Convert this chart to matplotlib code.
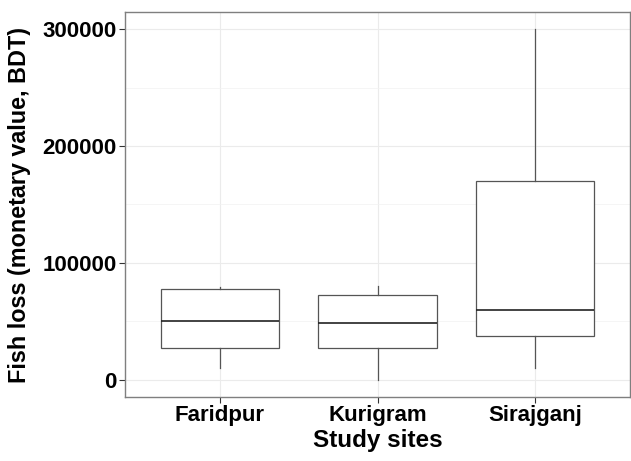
import numpy as np
import matplotlib
matplotlib.use('Agg')
import matplotlib.pyplot as plt
from matplotlib.ticker import MultipleLocator

# ------------------------------------------------------------
# DATA
# ------------------------------------------------------------
sites = ['Faridpur', 'Kurigram', 'Sirajganj']
whisker_low = [10000, 0, 10000]
q1 = [27000, 27000, 37000]
median = [50000, 48500, 60000]
q3 = [78000, 72500, 170000]
whisker_high = [79000, 80000, 300000]

plt.rcParams['font.family'] = ['Liberation Sans', 'DejaVu Sans']
plt.rcParams['font.weight'] = 'bold'

fig = plt.figure(figsize=(6.31, 4.61), dpi=100)
ax = fig.add_axes([125/631, 1 - 397/461, (630-125)/631, (397-12)/461])

stats = []
for i, s in enumerate(sites):
    stats.append(dict(label=s, whislo=whisker_low[i], q1=q1[i], med=median[i],
                      q3=q3[i], whishi=whisker_high[i], fliers=[]))

pos = np.arange(1, len(sites) + 1)
ax.bxp(stats, positions=pos, widths=0.75, showcaps=False, showfliers=False,
       patch_artist=True,
       boxprops=dict(facecolor='white', edgecolor='#555555', linewidth=0.9),
       whiskerprops=dict(color='#555555', linewidth=0.9),
       medianprops=dict(color='#222222', linewidth=1.2),
       zorder=3)

ax.set_xlim(0.4, 3.6)
ax.set_ylim(-15000, 315000)
ax.yaxis.set_major_locator(MultipleLocator(100000))
ax.yaxis.set_minor_locator(MultipleLocator(50000))
ax.set_xticks(pos)
ax.set_xticklabels(sites)

ax.grid(True, which='major', color='#EBEBEB', linewidth=0.8, zorder=0)
ax.grid(True, which='minor', axis='y', color='#F2F2F2', linewidth=0.5, zorder=0)
ax.set_axisbelow(True)
ax.tick_params(which='minor', length=0)
ax.tick_params(which='major', length=4, width=0.8, color='#333333',
               labelsize=16, labelcolor='black', pad=2)
for lab in ax.get_xticklabels() + ax.get_yticklabels():
    lab.set_fontweight('bold')

for sp in ax.spines.values():
    sp.set_color('#7f7f7f')
    sp.set_linewidth(1.0)

ax.set_xlabel('Study sites', fontsize=17.5, fontweight='bold', labelpad=2)
ax.set_ylabel('Fish loss (monetary value, BDT)', fontsize=16.8, fontweight='bold', labelpad=8)

fig.savefig('out.png', dpi=100)
